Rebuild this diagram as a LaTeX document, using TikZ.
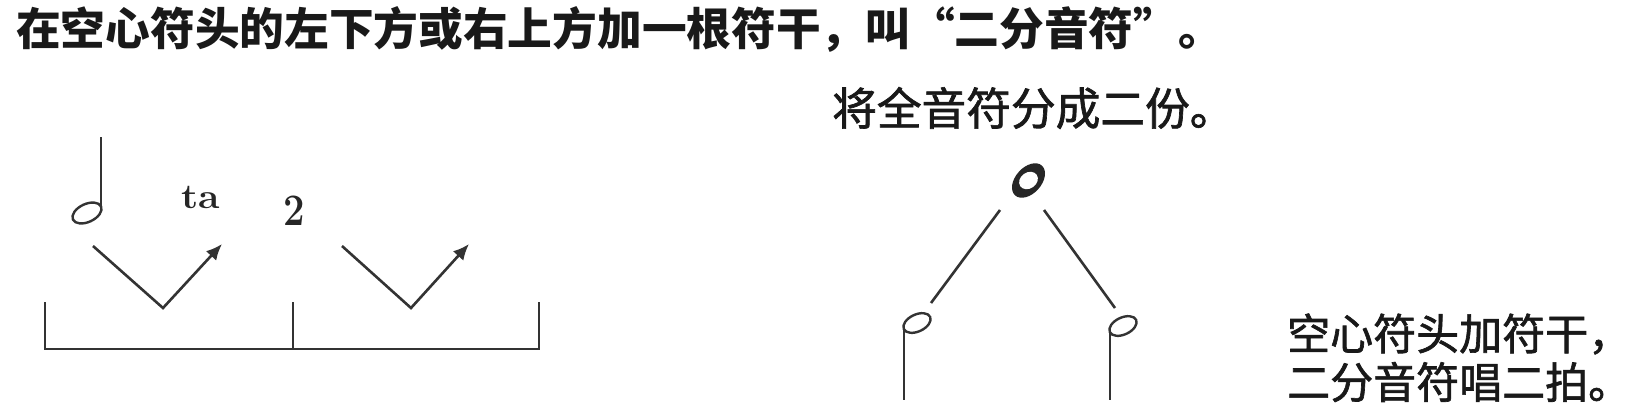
\documentclass[tikz,border=0pt]{standalone}
\usepackage{fontspec}
\newfontfamily\cjk{Noto Sans CJK SC}
\newfontfamily\cjkm[FakeBold=1.5]{Noto Sans CJK SC}
\usetikzlibrary{arrows.meta}
\begin{document}
\begin{tikzpicture}[x=1pt,y=-1pt,
  cjktext/.style={inner sep=0pt, anchor=west, text=black!90, font=\cjkm\fontsize{44.7}{52}\selectfont},
  cjkright/.style={inner sep=0pt, anchor=west, text=black!90, font=\cjkm\fontsize{43}{50}\selectfont},
  stroke/.style={line width=2.6pt, draw=black!80},
  arr/.style={stroke, -{Latex[length=16pt,width=14pt]}},
  headline/.style={line width=2.4pt, draw=black!80}]
\fill[white] (0,0) rectangle (1641,418);
\useasboundingbox (0,0) rectangle (1641,418);

% texts
\node[cjktext, font=\cjk\bfseries\fontsize{44.7}{52}\selectfont] (title) at (16,29) {在空心符头的左下方或右上方加一根符干，叫“二分音符”。};
\node[cjktext] (split) at (832,108) {将全音符分成二份。};
\node[cjkright] (r1) at (1287,334) {空心符头加符干，};
\node[cjkright] (r2) at (1287,382) {二分音符唱二拍。};

% left: half note
\draw[headline] (87,213) ellipse [x radius=15.5pt, y radius=9pt, rotate=25];
\coordinate (s1top) at (101,137);
\coordinate (s1bot) at (101,208);
\draw[stroke] (s1bot) -- (s1top);

\node[inner sep=0pt, font=\bfseries\fontsize{35}{40}\selectfont, text=black!85] (ta) at (201,197) {\scalebox{1.12}[1]{ta}};
\node[inner sep=0pt, font=\bfseries\fontsize{45}{50}\selectfont, text=black!85] (two) at (294,211) {\scalebox{0.85}[1]{2}};

% V arrows
\coordinate (v1a) at (93,246);
\coordinate (v1b) at (163,308);
\coordinate (v1c) at (222,244);
\coordinate (v2a) at (342,246);
\coordinate (v2b) at (411,308);
\coordinate (v2c) at (469,244);
\draw[arr] (v1a) -- (v1b) -- (v1c);
\draw[arr] (v2a) -- (v2b) -- (v2c);

% bracket
\coordinate (bL) at (45,302);
\coordinate (bLb) at (45,349);
\coordinate (bM) at (293,302);
\coordinate (bMb) at (293,349);
\coordinate (bR) at (539,302);
\coordinate (bRb) at (539,349);
\draw[stroke] (bL) -- (bLb) -- (bRb) -- (bR);
\draw[stroke] (bM) -- (bMb);

% right: whole note
\coordinate (whole) at (1028.5,180.5);
\fill[black!85] (whole) ellipse [x radius=20pt, y radius=13pt, rotate=48];
\fill[white] (whole) ellipse [x radius=10pt, y radius=8pt, rotate=35];

% half notes
\coordinate (h1) at (917,323);
\coordinate (h2) at (1123,326);
\draw[headline] (h1) ellipse [x radius=14.5pt, y radius=8.5pt, rotate=25];
\draw[headline] (h2) ellipse [x radius=14.5pt, y radius=8.5pt, rotate=25];
\coordinate (h1s) at (904,327);
\coordinate (h1e) at (904,400);
\coordinate (h2s) at (1110,330);
\coordinate (h2e) at (1110,400);
\draw[stroke] (h1s) -- (h1e);
\draw[stroke] (h2s) -- (h2e);

% branch lines
\coordinate (la) at (1000,210);
\coordinate (lb) at (931,303);
\coordinate (ra) at (1044,210);
\coordinate (rb) at (1115,308);
\draw[stroke] (la) -- (lb);
\draw[stroke] (ra) -- (rb);
\end{tikzpicture}
\end{document}
